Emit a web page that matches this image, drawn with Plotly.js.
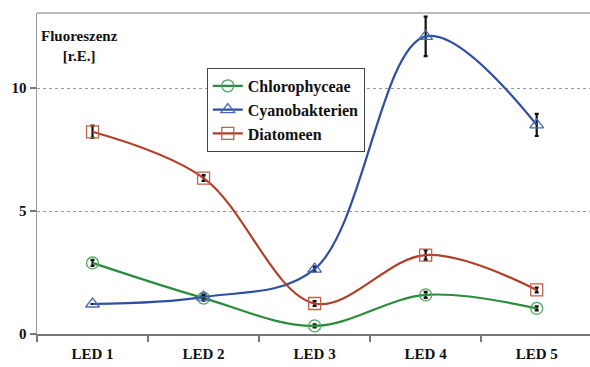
<!DOCTYPE html>
<html><head><meta charset="utf-8">
<script src="https://cdn.plot.ly/plotly-3.0.1.min.js"></script>
<style>body{margin:0;padding:0;background:#fff}#chart{width:590px;height:367px}</style>
</head><body><div id="chart"></div>
<script>
const categories = ["LED 1","LED 2","LED 3","LED 4","LED 5"];
const chlorophyceae = [2.89, 1.46, 0.33, 1.59, 1.04];
const chlorophyceaeErr = [0.12, 0.1, 0.06, 0.12, 0.08];
const cyanobakterien = [1.22, 1.5, 2.64, 12.1, 8.5];
const cyanobakterienErr = [0.0, 0.1, 0.1, 0.8, 0.45];
const diatomeen = [8.22, 6.34, 1.24, 3.21, 1.79];
const diatomeenErr = [0.25, 0.12, 0.1, 0.2, 0.1];

const serif = "Liberation Serif";
function trace(name, y, err, color, mcolor, symbol){
  return {
    x: categories, y: y, name: name, type: 'scatter', mode: 'lines+markers',
    line: {color: color, width: 2.2, shape: 'spline', smoothing: 1.0},
    marker: {symbol: symbol, size: 12, color: mcolor, line: {color: mcolor, width: 1.3}},
    error_y: {type: 'data', array: err, visible: true, color: '#111', thickness: 2.2, width: 2}
  };
}
const data = [
  trace('Chlorophyceae', chlorophyceae, chlorophyceaeErr, '#2a8c3c', '#4aa85a', 'circle-open'),
  trace('Cyanobakterien', cyanobakterien, cyanobakterienErr, '#2f4fa2', '#4a68b5', 'triangle-up-open'),
  trace('Diatomeen', diatomeen, diatomeenErr, '#b0402a', '#c0604a', 'square-open')
];
const layout = {
  width: 590, height: 367,
  margin: {l: 37, r: 0, t: 13, b: 33},
  paper_bgcolor: '#fff', plot_bgcolor: '#fff',
  showlegend: true,
  font: {family: serif, color: '#111'},
  xaxis: {
    type: 'category', range: [-0.5, 4.48],
    showgrid: false, zeroline: false,
    showline: true, linecolor: '#777', linewidth: 1.5,
    ticks: 'outside', tickson: 'boundaries', ticklen: 6, tickcolor: '#777', tickwidth: 1.5,
    tickfont: {family: serif, size: 15, color: '#111', weight: 'bold'},
    ticklabelstandoff: 5
  },
  yaxis: {
    range: [0, 13.05], tickvals: [0, 5, 10], ticktext: ['0','5','10'],
    showgrid: true, gridcolor: '#999', griddash: 'dot', gridwidth: 1,
    zeroline: false, showline: true, linecolor: '#999', linewidth: 1.5,
    ticks: 'outside', ticklen: 6, tickcolor: '#777', tickwidth: 1.5,
    tickfont: {family: serif, size: 15, color: '#111', weight: 'bold'}
  },
  legend: {
    x: 0.307, y: 0.829, xanchor: 'left', yanchor: 'top',
    bgcolor: '#fff', bordercolor: '#444', borderwidth: 1,
    font: {family: serif, size: 16, color: '#111', weight: 'bold'},
    tracegroupgap: 0, itemwidth: 30
  },
  shapes: [
    {type: 'line', xref: 'paper', yref: 'paper', x0: 0, x1: 1, y0: 1, y1: 1,
     line: {color: '#bbb', width: 2}}
  ],
  annotations: [
    {xref: 'paper', yref: 'paper', x: 0.004, y: 0.96, xanchor: 'left', yanchor: 'top',
     text: 'Fluoreszenz<br>[r.E.]', showarrow: false, align: 'center',
     font: {family: serif, size: 15, color: '#111', weight: 'bold'}}
  ]
};
Plotly.newPlot('chart', data, layout, {displayModeBar: false, staticPlot: true});
</script></body></html>
